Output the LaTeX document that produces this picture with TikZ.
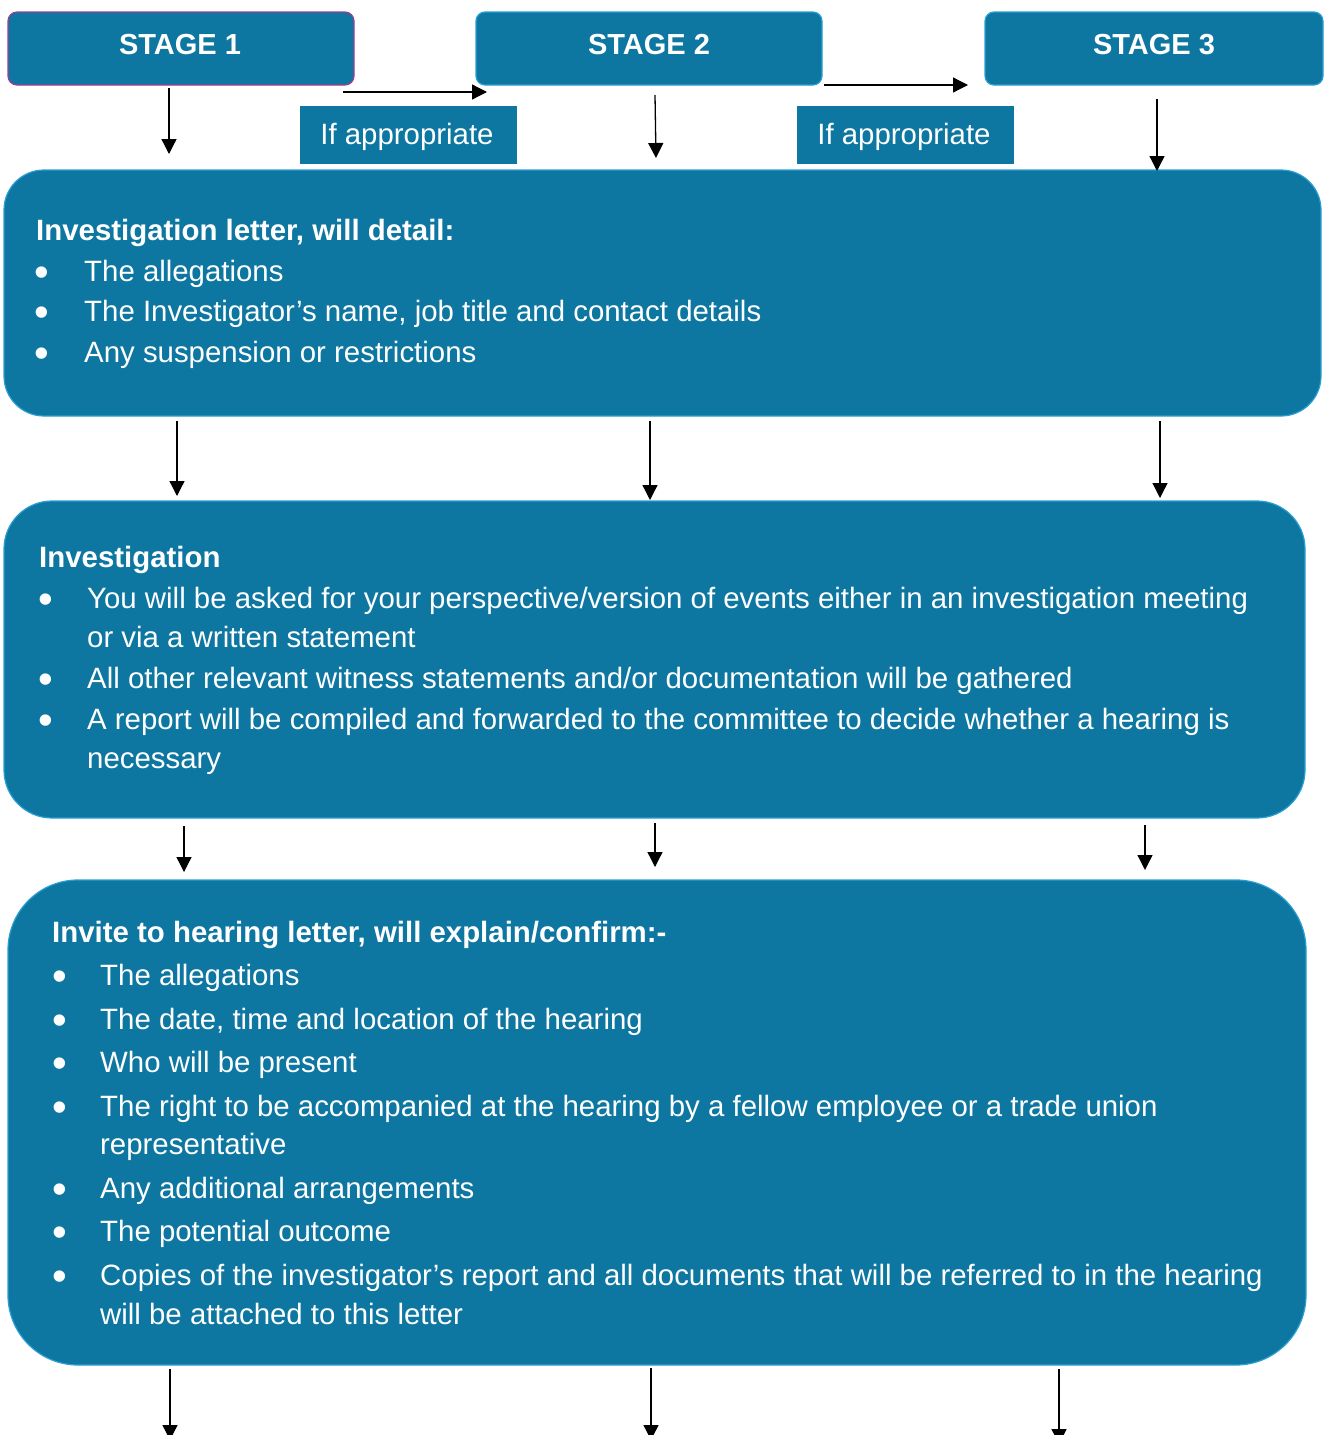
\documentclass[tikz,border=0pt]{standalone}
\usepackage{fontspec}
\setmainfont{Liberation Sans}
\usetikzlibrary{arrows.meta}
\definecolor{boxfill}{HTML}{0D77A1}
\definecolor{boxedge}{HTML}{2A9FD3}
\definecolor{stageedge}{HTML}{9C3F95}
\tikzset{
  stagebox/.style={draw=boxedge, line width=1.2pt, fill=boxfill, rounded corners=9pt,
    minimum width=346pt, minimum height=73pt, inner sep=0pt, outer sep=0pt},
  tagbox/.style={fill=boxfill, minimum width=217pt, minimum height=58pt, inner sep=0pt, outer sep=0pt},
  bigbox/.style={draw=boxedge, line width=1.2pt, fill=boxfill, inner sep=0pt, outer sep=0pt},
  txt/.style={text=white, font=\fontsize{29.4}{35}\selectfont, anchor=base west, inner sep=0pt},
  hd/.style={txt, font=\fontsize{29.4}{35}\selectfont\bfseries},
  stagetxt/.style={text=white, font=\fontsize{29}{35}\selectfont\bfseries, anchor=base, inner sep=0pt},
  bul/.style={text=white, font=\fontsize{42}{45}\selectfont, anchor=base, inner sep=0pt, yshift=-5pt},
  arr/.style={line width=1.3pt, -{Triangle[length=15pt,width=15pt]}},
}
\begin{document}
\begin{tikzpicture}[x=1pt,y=-1pt]
\useasboundingbox (0,0) rectangle (1331,1435);

% stage boxes
\node[stagebox, draw=stageedge] (s1) at (181,48.5) {};
\node[stagebox] (s2) at (649,48.5) {};
\node[stagebox, minimum width=338pt] (s3) at (1154,48.5) {};
\node[stagetxt] (s1t) at (180,54) {STAGE 1};
\node[stagetxt] (s2t) at (649,54) {STAGE 2};
\node[stagetxt] (s3t) at (1154,54) {STAGE 3};

% if appropriate tags
\node[tagbox] (t1) at (408.5,135) {};
\node[tagbox] (t2) at (905.5,135) {};
\node[txt, anchor=base] (t1t) at (407,144) {If appropriate};
\node[txt, anchor=base] (t2t) at (904,144) {If appropriate};

% big boxes
\path[bigbox, rounded corners=40pt] (4,170) rectangle (1321,416);
\node[inner sep=0pt] (b1) at (662.5,293) {};
\path[bigbox, rounded corners=48pt] (4,501) rectangle (1305,818);
\node[inner sep=0pt] (b2) at (654.5,659.5) {};
\path[bigbox, rounded corners=70pt] (8,880) rectangle (1306,1365);
\node[inner sep=0pt] (b3) at (657,1122.5) {};

% box 1 text
\node[hd] (b1h) at (36,240) {Investigation letter, will detail:};
\foreach \y/\t [count=\i] in {281/The allegations, 321/The Investigator’s name{,} job title and contact details, 362/Any suspension or restrictions}{
  \node[bul] (b1b\i) at (42,\y) {•};
  \node[txt] (b1l\i) at (84,\y) {\t};
}

% box 2 text
\node[hd] (b2h) at (39,567) {Investigation};
\foreach \y in {608,688,729}{
  \node[bul] at (46,\y) {•};
}
\node[txt] (b2l1) at (87,608) {You will be asked for your perspective/version of events either in an investigation meeting};
\node[txt] (b2l2) at (87,647) {or via a written statement};
\node[txt] (b2l3) at (87,688) {All other relevant witness statements and/or documentation will be gathered};
\node[txt] (b2l4) at (87,729) {A report will be compiled and forwarded to the committee to decide whether a hearing is};
\node[txt] (b2l5) at (87,768) {necessary};

% box 3 text
\node[hd] (b3h) at (52,942) {Invite to hearing letter, will explain/confirm:-};
\foreach \y in {985,1029,1072,1116,1198,1241,1285}{
  \node[bul] at (60,\y) {•};
}
\node[txt] (b3l1) at (100,985) {The allegations};
\node[txt] (b3l2) at (100,1029) {The date, time and location of the hearing};
\node[txt] (b3l3) at (100,1072) {Who will be present};
\node[txt] (b3l4) at (100,1116) {The right to be accompanied at the hearing by a fellow employee or a trade union};
\node[txt] (b3l5) at (100,1154) {representative};
\node[txt] (b3l6) at (100,1198) {Any additional arrangements};
\node[txt] (b3l7) at (100,1241) {The potential outcome};
\node[txt] (b3l8) at (100,1285) {Copies of the investigator’s report and all documents that will be referred to in the hearing};
\node[txt] (b3l9) at (100,1324) {will be attached to this letter};

% arrow coordinates
\coordinate (h1a) at (343,92);  \coordinate (h1b) at (487,92);
\coordinate (h2a) at (824,85);  \coordinate (h2b) at (968,85);
\coordinate (v1a) at (169,88);  \coordinate (v1b) at (169,154);
\coordinate (v2a) at (655,95);  \coordinate (v2b) at (656,158);
\coordinate (v3a) at (1157,99); \coordinate (v3b) at (1157,171);
\coordinate (w1a) at (177,421); \coordinate (w1b) at (177,496);
\coordinate (w2a) at (650,421); \coordinate (w2b) at (650,500);
\coordinate (w3a) at (1160,421);\coordinate (w3b) at (1160,498);
\coordinate (x1a) at (184,826); \coordinate (x1b) at (184,872);
\coordinate (x2a) at (655,823); \coordinate (x2b) at (655,867);
\coordinate (x3a) at (1145,825);\coordinate (x3b) at (1145,870);
\coordinate (y1a) at (170,1369); \coordinate (y1b) at (170,1440);
\coordinate (y2a) at (651,1368); \coordinate (y2b) at (651,1440);
\coordinate (y3a) at (1059,1369);\coordinate (y3b) at (1059,1444);

\foreach \a/\b in {h1a/h1b,h2a/h2b,v1a/v1b,v2a/v2b,v3a/v3b,w1a/w1b,w2a/w2b,w3a/w3b,x1a/x1b,x2a/x2b,x3a/x3b,y1a/y1b,y2a/y2b,y3a/y3b}{
  \draw[arr] (\a) -- (\b);
}
\end{tikzpicture}
\end{document}
